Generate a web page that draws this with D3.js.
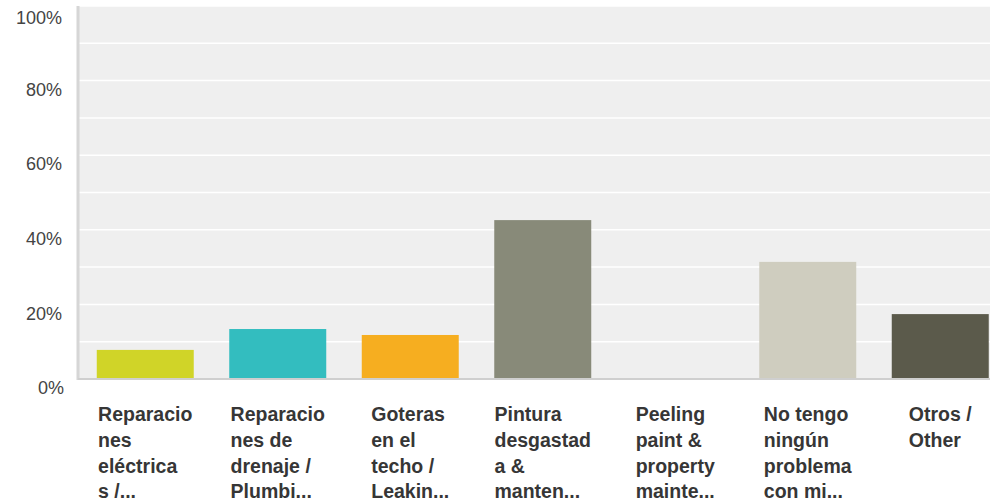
<!DOCTYPE html>
<html>
<head>
<meta charset="utf-8">
<script src="https://cdn.jsdelivr.net/npm/d3@7"></script>
<style>
  body { margin: 0; background: #fff; }
  svg { display: block; font-family: Arial, "Liberation Sans", Helvetica, sans-serif; }
</style>
</head>
<body>
<div id="chart"></div>
<script>
const categories = [
  ["Reparacio", "nes", "eléctrica", "s /..."],
  ["Reparacio", "nes de", "drenaje /", "Plumbi..."],
  ["Goteras", "en el", "techo /", "Leakin..."],
  ["Pintura", "desgastad", "a &", "manten..."],
  ["Peeling", "paint &", "property", "mainte..."],
  ["No tengo", "ningún", "problema", "con mi..."],
  ["Otros /", "Other"]
];
const values = [7.8, 13.4, 11.8, 42.6, 0, 31.4, 17.4];
const colors = ["#d0d428", "#33bdbf", "#f6ae20", "#888a79", "#cfcdbf", "#cfcdbf", "#5b5a4b"];
const yTicks = [0, 20, 40, 60, 80, 100];

const W = 990, H = 504;
const margin = { top: 6, left: 79, bottom: 125 };
const plotBottom = H - margin.bottom;

const svg = d3.select("#chart").append("svg")
  .attr("width", W)
  .attr("height", H);

const x = d3.scaleBand()
  .domain(d3.range(categories.length))
  .range([margin.left, margin.left + 927.5])
  .paddingInner(0.268)
  .paddingOuter(0.134);

const y = d3.scaleLinear()
  .domain([0, 100])
  .range([plotBottom, margin.top]);

// plot background
svg.append("rect")
  .attr("x", margin.left)
  .attr("y", margin.top)
  .attr("width", W - margin.left)
  .attr("height", plotBottom - margin.top)
  .attr("fill", "#efefef");

// gridlines every 10%
svg.append("g")
  .selectAll("line")
  .data(d3.range(10, 101, 10))
  .enter().append("line")
  .attr("x1", margin.left)
  .attr("x2", W)
  .attr("y1", d => y(d))
  .attr("y2", d => y(d))
  .attr("stroke", "#fff")
  .attr("stroke-width", 1.5);

// bars
svg.append("g")
  .selectAll("rect")
  .data(values)
  .enter().append("rect")
  .attr("x", (d, i) => x(i))
  .attr("y", d => y(d))
  .attr("width", x.bandwidth())
  .attr("height", d => y(0) - y(d))
  .attr("fill", (d, i) => colors[i]);

// axis lines
svg.append("line")
  .attr("x1", margin.left - 1).attr("x2", margin.left - 1)
  .attr("y1", margin.top).attr("y2", plotBottom + 1)
  .attr("stroke", "#d6d6d6").attr("stroke-width", 3);
svg.append("line")
  .attr("x1", margin.left - 1).attr("x2", W)
  .attr("y1", plotBottom).attr("y2", plotBottom)
  .attr("stroke", "#cfcfcf").attr("stroke-width", 2);

// y tick labels
const yAxis = d3.axisLeft(y)
  .tickValues(yTicks)
  .tickFormat(d => d + "%")
  .tickSize(0)
  .tickPadding(0);

const yg = svg.append("g")
  .attr("transform", `translate(62, 9)`)
  .call(yAxis);
yg.select(".domain").remove();
yg.selectAll("text")
  .attr("font-size", "18px")
  .attr("font-family", "Arial, 'Liberation Sans', sans-serif")
  .attr("fill", "#444");
yg.selectAll(".tick").filter(d => d === 100)
  .attr("transform", `translate(0, ${y(100) + 3})`);
yg.selectAll(".tick").filter(d => d === 0)
  .attr("transform", `translate(2, ${y(0)})`);

// x category labels: block of lines, left aligned, centred under the bar
const labels = svg.append("g")
  .selectAll("text")
  .data(categories)
  .enter().append("text")
  .attr("y", 421)
  .attr("font-size", "19.5px")
  .attr("font-weight", "bold")
  .attr("fill", "#363636");

labels.selectAll("tspan")
  .data(d => d)
  .enter().append("tspan")
  .attr("dy", (d, i) => i === 0 ? 0 : 25.8)
  .text(d => d);

labels.each(function (d, i) {
  const spans = d3.select(this).selectAll("tspan");
  let maxW = 0;
  spans.each(function () { maxW = Math.max(maxW, this.getComputedTextLength()); });
  const left = Math.max(x(i), x(i) + x.bandwidth() / 2 - maxW / 2);
  spans.attr("x", left);
});
</script>
</body>
</html>
